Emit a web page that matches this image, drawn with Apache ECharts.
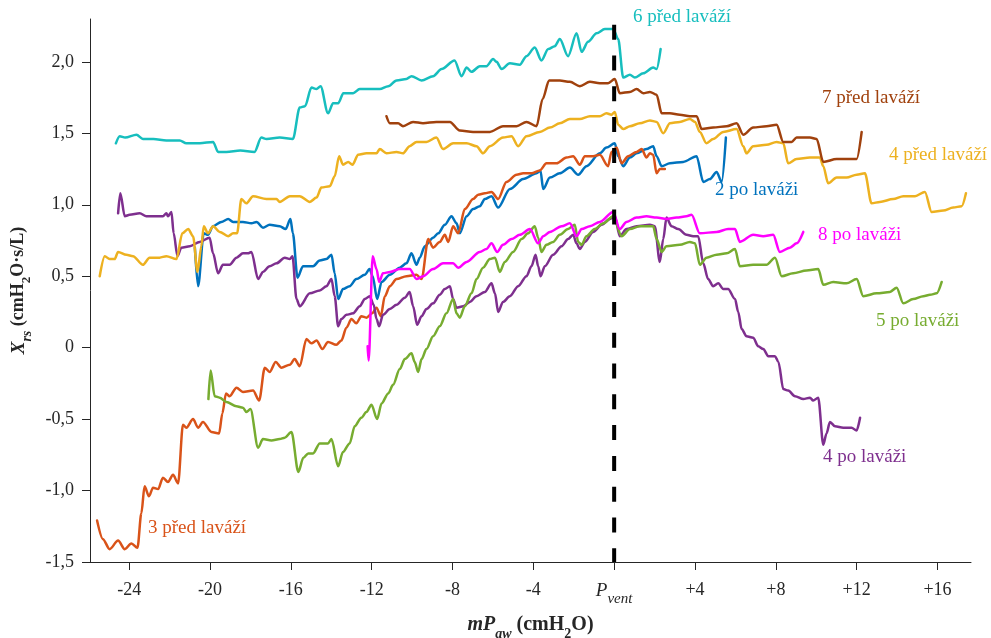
<!DOCTYPE html>
<html>
<head>
<meta charset="utf-8">
<script src="https://cdn.jsdelivr.net/npm/echarts@6/dist/echarts.min.js"></script>
<style>
  html, body { margin: 0; padding: 0; background: #fff; }
  #chart { width: 991px; height: 638px; }
</style>
</head>
<body>
<div id="chart"></div>
<script>
// tick positions on both axes
const xTicks = [-24, -20, -16, -12, -8, -4, 0, 4, 8, 12, 16];
const yTicks = [-1.5, -1, -0.5, 0, 0.5, 1, 1.5, 2];

// Xrs curves, [mPaw, Xrs]
const po2 = [[-20.75,0.70],[-20.59,0.43],[-20.31,0.80],[-20.1,0.79],[-19.85,0.85],[-19.44,0.88],[-19.1,0.90],[-18.86,0.88],[-18.37,0.88],[-17.95,0.87],[-17.7,0.88],[-17.38,0.84],[-17.05,0.86],[-16.55,0.85],[-16.26,0.83],[-16.02,0.90],[-15.9,0.80],[-15.67,0.49],[-15.4,0.57],[-14.9,0.57],[-14.57,0.61],[-14.24,0.62],[-13.99,0.65],[-13.83,0.52],[-13.66,0.34],[-13.42,0.41],[-13.09,0.43],[-12.76,0.48],[-12.34,0.51],[-12.1,0.55],[-11.95,0.50],[-11.73,0.34],[-11.51,0.46],[-11.1,0.51],[-10.61,0.56],[-10.28,0.59],[-10.03,0.66],[-9.78,0.58],[-9.62,0.63],[-9.37,0.71],[-8.96,0.77],[-8.71,0.80],[-8.38,0.86],[-8.05,0.92],[-7.8,0.87],[-7.64,0.80],[-7.3,0.92],[-6.98,0.97],[-6.65,0.99],[-6.4,1.04],[-6.07,1.06],[-5.74,0.98],[-5.16,1.11],[-4.5,1.18],[-3.84,1.22],[-3.65,1.24],[-3.51,1.11],[-3.18,1.19],[-2.69,1.22],[-2.19,1.26],[-1.78,1.21],[-1.37,1.27],[-0.71,1.36],[-0.38,1.40],[0.03,1.43],[0.2,1.34],[0.45,1.27],[0.78,1.33],[1.11,1.36],[1.6,1.39],[1.93,1.41],[2.1,1.34],[2.35,1.27],[2.76,1.29],[3.42,1.30],[4.08,1.34],[4.41,1.16],[4.74,1.18],[5.07,1.23],[5.32,1.16],[5.53,1.47]];
const pred3 = [[-25.59,-1.21],[-25.3,-1.34],[-24.97,-1.41],[-24.55,-1.35],[-24.22,-1.41],[-23.89,-1.37],[-23.59,-1.40],[-23.4,-1.16],[-23.24,-0.97],[-23.02,-1.04],[-22.82,-0.98],[-22.57,-0.99],[-22.33,-0.91],[-22.08,-0.94],[-21.83,-0.89],[-21.58,-0.95],[-21.34,-0.54],[-21.17,-0.56],[-20.84,-0.50],[-20.59,-0.56],[-20.35,-0.52],[-19.93,-0.59],[-19.55,-0.60],[-19.39,-0.46],[-19.21,-0.32],[-19.03,-0.34],[-18.69,-0.28],[-18.37,-0.31],[-17.87,-0.30],[-17.57,-0.37],[-17.29,-0.14],[-17.05,-0.17],[-16.75,-0.10],[-16.47,-0.14],[-16.05,-0.12],[-15.81,-0.08],[-15.56,-0.13],[-15.23,0.06],[-14.98,0.03],[-14.73,0.05],[-14.44,-0.01],[-14.16,0.04],[-13.75,0.02],[-13.5,0.05],[-13.25,0.14],[-13.0,0.20],[-12.76,0.17],[-12.51,0.22],[-12.26,0.21],[-11.98,0.24],[-11.76,0.28],[-11.55,0.22],[-11.35,0.36],[-11.1,0.43],[-10.77,0.48],[-10.28,0.50],[-9.78,0.51],[-9.53,0.48],[-9.2,0.76],[-8.96,0.70],[-8.63,0.74],[-8.38,0.79],[-8.21,0.74],[-7.97,0.85],[-7.72,0.80],[-7.39,0.97],[-6.98,1.04],[-6.73,1.07],[-6.4,1.08],[-6.07,1.09],[-5.74,1.04],[-5.33,1.16],[-4.83,1.21],[-4.5,1.22],[-4.09,1.22],[-3.68,1.24],[-3.35,1.29],[-2.85,1.29],[-2.36,1.33],[-2.03,1.34],[-1.7,1.28],[-1.45,1.34],[-1.04,1.34],[-0.71,1.35],[-0.3,1.27],[-0.13,1.37],[0.12,1.40],[0.37,1.29],[0.69,1.34],[1.11,1.37],[1.36,1.39],[1.6,1.33],[1.77,1.36],[1.93,1.35],[2.1,1.22],[2.26,1.25],[2.51,1.25]];
const po4 = [[-24.55,0.94],[-24.44,1.08],[-24.22,0.92],[-23.98,0.93],[-23.48,0.94],[-23.15,0.92],[-22.65,0.92],[-22.33,0.92],[-22.16,0.94],[-22.08,0.92],[-21.91,0.95],[-21.8,0.80],[-21.61,0.64],[-21.42,0.70],[-21.0,0.71],[-20.51,0.74],[-20.02,0.77],[-19.85,0.66],[-19.6,0.52],[-19.36,0.58],[-19.03,0.58],[-18.69,0.63],[-18.37,0.66],[-18.12,0.66],[-17.95,0.67],[-17.62,0.48],[-17.38,0.53],[-17.05,0.57],[-16.71,0.59],[-16.3,0.63],[-16.05,0.62],[-15.92,0.64],[-15.72,0.34],[-15.56,0.29],[-15.06,0.38],[-14.57,0.40],[-14.24,0.43],[-13.99,0.48],[-13.83,0.36],[-13.66,0.15],[-13.5,0.20],[-13.25,0.23],[-12.92,0.24],[-12.59,0.29],[-12.34,0.34],[-12.1,0.36],[-11.9,0.30],[-11.76,0.20],[-11.63,0.15],[-11.44,0.23],[-11.1,0.27],[-10.77,0.30],[-10.36,0.35],[-10.12,0.39],[-9.95,0.29],[-9.75,0.16],[-9.53,0.22],[-9.29,0.27],[-8.96,0.31],[-8.63,0.37],[-8.38,0.41],[-8.13,0.43],[-7.97,0.34],[-7.8,0.28],[-7.47,0.29],[-7.14,0.32],[-6.81,0.36],[-6.4,0.39],[-6.07,0.45],[-5.9,0.38],[-5.74,0.25],[-5.5,0.32],[-5.16,0.36],[-4.75,0.43],[-4.34,0.50],[-4.09,0.57],[-3.89,0.65],[-3.76,0.57],[-3.64,0.50],[-3.43,0.57],[-3.02,0.65],[-2.6,0.71],[-2.28,0.76],[-2.03,0.79],[-1.86,0.73],[-1.7,0.69],[-1.45,0.74],[-1.04,0.81],[-0.62,0.86],[-0.21,0.90],[0.03,0.92],[0.28,0.78],[0.61,0.83],[1.11,0.85],[1.77,0.86],[2.01,0.85],[2.26,0.60],[2.43,0.76],[2.59,0.91],[2.84,0.85],[3.17,0.83],[3.58,0.79],[3.91,0.78],[4.16,0.78],[4.41,0.59],[4.65,0.48],[4.9,0.43],[5.15,0.45],[5.4,0.41],[5.64,0.41],[5.98,0.34],[6.14,0.25],[6.31,0.13],[6.55,0.08],[6.88,0.07],[7.13,0.01],[7.38,-0.01],[7.63,-0.06],[7.96,-0.06],[8.13,-0.10],[8.37,-0.29],[8.61,-0.30],[8.95,-0.34],[9.36,-0.36],[9.69,-0.35],[9.85,-0.37],[10.1,-0.35],[10.35,-0.68],[10.51,-0.60],[10.68,-0.52],[10.93,-0.55],[11.34,-0.56],[11.75,-0.56],[12.0,-0.58],[12.17,-0.49]];
const pred4 = [[-25.46,0.50],[-25.21,0.64],[-24.97,0.62],[-24.72,0.62],[-24.55,0.67],[-24.14,0.65],[-23.81,0.64],[-23.32,0.58],[-22.99,0.63],[-22.5,0.63],[-22.16,0.64],[-21.66,0.62],[-21.37,0.80],[-21.08,0.83],[-20.84,0.78],[-20.62,0.53],[-20.43,0.71],[-20.31,0.85],[-20.1,0.80],[-19.85,0.85],[-19.52,0.81],[-19.1,0.78],[-18.86,0.80],[-18.66,0.80],[-18.45,1.04],[-18.2,1.01],[-17.87,1.06],[-17.21,1.04],[-16.71,1.04],[-16.55,1.02],[-16.05,1.06],[-15.56,1.06],[-15.06,1.02],[-14.73,1.05],[-14.49,1.12],[-14.07,1.13],[-13.83,1.20],[-13.61,1.34],[-13.42,1.28],[-13.16,1.30],[-12.95,1.28],[-12.67,1.35],[-12.26,1.36],[-11.76,1.36],[-11.6,1.39],[-11.27,1.36],[-10.77,1.37],[-10.45,1.36],[-10.12,1.41],[-9.78,1.44],[-9.29,1.44],[-8.8,1.47],[-8.47,1.39],[-7.97,1.43],[-7.3,1.43],[-6.81,1.41],[-6.49,1.36],[-6.15,1.41],[-5.5,1.47],[-5.08,1.48],[-4.75,1.41],[-4.34,1.48],[-3.68,1.51],[-3.18,1.54],[-2.69,1.57],[-2.19,1.60],[-1.7,1.60],[-1.2,1.62],[-0.71,1.62],[-0.38,1.64],[-0.13,1.63],[0.03,1.65],[0.2,1.56],[0.45,1.53],[0.78,1.55],[1.27,1.57],[1.77,1.59],[2.1,1.58],[2.43,1.50],[2.76,1.57],[3.25,1.58],[3.75,1.60],[4.0,1.58],[4.24,1.51],[4.57,1.43],[4.9,1.46],[5.4,1.51],[6.06,1.53],[6.39,1.41],[6.55,1.36],[6.88,1.41],[7.54,1.42],[8.04,1.44],[8.37,1.43],[8.61,1.29],[9.03,1.32],[9.69,1.33],[10.18,1.33],[10.35,1.27],[10.59,1.15],[11.01,1.19],[11.5,1.19],[12.0,1.21],[12.41,1.22],[12.74,1.01],[13.15,1.02],[13.81,1.04],[14.31,1.06],[14.89,1.06],[15.38,1.09],[15.71,0.95],[16.29,0.96],[16.78,0.98],[17.2,0.99],[17.41,1.08]];
const po5 = [[-20.08,-0.36],[-19.97,-0.16],[-19.77,-0.34],[-19.52,-0.35],[-19.19,-0.38],[-18.69,-0.41],[-18.37,-0.42],[-18.2,-0.45],[-18.0,-0.43],[-17.62,-0.70],[-17.38,-0.64],[-16.96,-0.65],[-16.55,-0.64],[-16.3,-0.63],[-15.97,-0.59],[-15.63,-0.87],[-15.38,-0.77],[-15.14,-0.74],[-14.9,-0.74],[-14.57,-0.67],[-14.16,-0.67],[-13.99,-0.64],[-13.66,-0.83],[-13.42,-0.73],[-13.09,-0.67],[-12.84,-0.55],[-12.51,-0.49],[-12.26,-0.45],[-12.01,-0.40],[-11.73,-0.50],[-11.51,-0.39],[-11.18,-0.32],[-10.94,-0.26],[-10.61,-0.15],[-10.36,-0.08],[-10.03,-0.04],[-9.87,-0.10],[-9.7,-0.17],[-9.53,-0.08],[-9.29,-0.01],[-8.96,0.08],[-8.63,0.15],[-8.3,0.24],[-7.97,0.34],[-7.8,0.24],[-7.64,0.21],[-7.39,0.29],[-7.06,0.38],[-6.81,0.48],[-6.49,0.56],[-6.15,0.62],[-5.9,0.63],[-5.66,0.53],[-5.41,0.60],[-5.0,0.67],[-4.58,0.76],[-4.26,0.80],[-3.93,0.85],[-3.76,0.77],[-3.6,0.67],[-3.35,0.72],[-3.02,0.74],[-2.69,0.79],[-2.28,0.83],[-1.95,0.86],[-1.78,0.74],[-1.61,0.72],[-1.37,0.78],[-0.96,0.83],[-0.54,0.87],[-0.05,0.92],[0.37,0.78],[0.78,0.83],[1.27,0.85],[1.93,0.85],[2.1,0.76],[2.35,0.67],[2.59,0.71],[3.25,0.72],[3.75,0.74],[4.0,0.73],[4.24,0.58],[4.57,0.63],[5.07,0.65],[5.57,0.66],[5.98,0.69],[6.22,0.57],[6.88,0.58],[7.54,0.58],[7.96,0.63],[8.29,0.50],[8.86,0.52],[9.52,0.54],[10.1,0.55],[10.35,0.44],[10.84,0.46],[11.5,0.45],[12.0,0.48],[12.33,0.36],[12.99,0.38],[13.65,0.39],[13.98,0.42],[14.31,0.31],[14.8,0.34],[15.3,0.36],[15.63,0.37],[15.96,0.38],[16.21,0.46]];
const pred6 = [[-24.66,1.43],[-24.47,1.48],[-24.2,1.47],[-23.64,1.49],[-23.32,1.46],[-22.8,1.46],[-22.16,1.45],[-21.5,1.45],[-21.17,1.43],[-20.5,1.43],[-19.85,1.44],[-19.6,1.37],[-19.19,1.37],[-18.5,1.38],[-17.8,1.37],[-17.46,1.47],[-17.2,1.46],[-16.55,1.47],[-15.9,1.46],[-15.56,1.68],[-15.3,1.69],[-14.98,1.82],[-14.73,1.81],[-14.53,1.83],[-14.16,1.64],[-13.91,1.71],[-13.66,1.71],[-13.4,1.78],[-12.92,1.78],[-12.59,1.81],[-12.1,1.81],[-11.6,1.81],[-11.18,1.83],[-10.77,1.87],[-10.28,1.88],[-10.03,1.90],[-9.53,1.87],[-8.96,1.90],[-8.54,1.95],[-7.9,2.01],[-7.55,1.90],[-7.3,1.96],[-7.06,1.93],[-6.65,1.97],[-6.32,1.97],[-5.99,2.02],[-5.82,2.00],[-5.57,1.95],[-5.16,1.99],[-4.67,1.98],[-4.34,2.04],[-3.93,2.10],[-3.6,2.01],[-3.26,2.09],[-2.94,2.11],[-2.69,2.16],[-2.28,2.04],[-1.86,2.20],[-1.61,2.07],[-1.29,2.14],[-0.87,2.20],[-0.46,2.23],[-0.05,2.23],[0.2,2.16],[0.45,1.89],[0.78,1.91],[1.02,1.89],[1.44,1.92],[1.93,1.96],[2.1,1.95],[2.3,2.09]];
const pred7 = [[-11.27,1.62],[-11.1,1.57],[-10.69,1.57],[-10.45,1.55],[-9.95,1.58],[-9.46,1.57],[-8.8,1.58],[-8.13,1.58],[-7.64,1.52],[-6.98,1.51],[-6.15,1.51],[-5.5,1.55],[-4.83,1.55],[-4.34,1.58],[-3.84,1.55],[-3.54,1.74],[-3.22,1.87],[-2.69,1.87],[-2.19,1.86],[-1.7,1.83],[-1.2,1.86],[-0.71,1.85],[-0.3,1.85],[0.03,1.88],[0.28,1.78],[0.78,1.79],[1.11,1.81],[1.44,1.78],[1.77,1.79],[2.1,1.77],[2.35,1.64],[2.76,1.64],[3.25,1.63],[3.75,1.62],[4.08,1.62],[4.33,1.53],[4.9,1.54],[5.57,1.55],[6.06,1.57],[6.39,1.49],[6.88,1.54],[7.54,1.55],[8.04,1.56],[8.37,1.44],[8.78,1.44],[9.03,1.47],[9.69,1.47],[10.02,1.46],[10.35,1.30],[11.01,1.32],[11.67,1.32],[12.0,1.32],[12.25,1.51]];
const po8 = [[-12.2,0.01],[-12.15,-0.09],[-11.95,0.64],[-11.76,0.55],[-11.63,0.46],[-11.44,0.52],[-11.1,0.53],[-10.61,0.55],[-10.12,0.55],[-9.78,0.48],[-9.46,0.50],[-8.96,0.55],[-8.47,0.59],[-7.97,0.59],[-7.72,0.56],[-7.3,0.60],[-6.65,0.67],[-6.32,0.69],[-6.07,0.73],[-5.79,0.67],[-5.5,0.72],[-5.08,0.76],[-4.67,0.79],[-4.17,0.83],[-3.76,0.73],[-3.51,0.78],[-3.18,0.81],[-2.6,0.85],[-2.19,0.87],[-1.86,0.78],[-1.61,0.83],[-1.2,0.85],[-0.71,0.88],[-0.05,0.95],[0.28,0.83],[0.61,0.88],[1.11,0.91],[1.6,0.92],[2.1,0.91],[2.59,0.90],[3.09,0.91],[3.58,0.92],[3.83,0.93],[4.24,0.80],[5.07,0.81],[5.64,0.83],[5.98,0.83],[6.22,0.74],[6.88,0.79],[7.38,0.78],[7.87,0.79],[8.2,0.67],[8.7,0.70],[9.03,0.73],[9.36,0.81]];
// vertical dashed line at P_vent
const pvent = [[0, 2.26], [0, -1.5]];

const FONT = '"Liberation Serif", "Times New Roman", serif';
const AX = '#262626';

const curves = [
    { name: '2 po laváži', data: po2, color: '#0072BD' },
    { name: '3 před laváží', data: pred3, color: '#D95319' },
    { name: '4 po laváži', data: po4, color: '#7E2F8E' },
    { name: '4 před laváží', data: pred4, color: '#EDB120' },
    { name: '5 po laváži', data: po5, color: '#77AC30' },
    { name: '6 před laváží', data: pred6, color: '#17BEBE' },
    { name: '7 před laváží', data: pred7, color: '#A0410D' },
    { name: '8 po laváži', data: po8, color: '#FF00FF' },
];

// where the curve names sit (pixel, left/middle)
const labelPos = {
    '6 před laváží': [633, 19],
    '7 před laváží': [822, 100],
    '4 před laváží': [889, 157],
    '2 po laváži': [715, 192],
    '8 po laváži': [818, 237],
    '5 po laváži': [876, 323],
    '4 po laváži': [823, 459],
    '3 před laváží': [148, 530],
};

const sub = (size) => ({ fontFamily: FONT, fontSize: size, color: AX });

const chart = echarts.init(document.getElementById('chart'), null, { renderer: 'canvas' });
chart.setOption({
    animation: false,
    textStyle: { fontFamily: FONT },
    grid: { left: 90, right: 20, top: 19, bottom: 76, containLabel: false, outerBoundsMode: 'none' },
    xAxis: {
        type: 'value',
        min: -25.94,
        max: 17.66,
        name: '{m|mP}{ms|aw}{n| (cmH}{ns|2}{n|O)}',
        nameLocation: 'middle',
        nameGap: 53,
        nameTextStyle: {
            rich: {
                m: { ...sub(20), fontWeight: 'bold', fontStyle: 'italic', lineHeight: 22, verticalAlign: 'top' },
                ms: { ...sub(14), fontWeight: 'bold', fontStyle: 'italic', lineHeight: 15, padding: [12, 0, 0, 0], verticalAlign: 'top' },
                n: { ...sub(20), fontWeight: 'bold', lineHeight: 22, verticalAlign: 'top' },
                ns: { ...sub(14), fontWeight: 'bold', lineHeight: 15, padding: [12, 0, 0, 0], verticalAlign: 'top' },
            },
        },
        axisLine: { onZero: false, lineStyle: { color: AX, width: 1 } },
        axisTick: { length: 8, customValues: xTicks, lineStyle: { color: AX } },
        axisLabel: {
            customValues: xTicks,
            margin: 19,
            color: AX,
            fontSize: 18,
            fontFamily: FONT,
            formatter: (v) => (v === 0 ? '{p|P}{s|vent}' : v > 0 ? '+' + v : String(v)),
            rich: {
                p: { ...sub(19), fontStyle: 'italic', lineHeight: 19, verticalAlign: 'top' },
                s: { ...sub(15), fontStyle: 'italic', lineHeight: 15, padding: [11, 0, 0, 0], verticalAlign: 'top' },
            },
        },
        splitLine: { show: false },
    },
    yAxis: {
        type: 'value',
        min: -1.5,
        max: 2.3,
        name: '{x|X}{xs|rs}{n| (cmH}{ns|2}{n|O·s/L)}',
        nameLocation: 'middle',
        nameRotate: 90,
        nameGap: 53,
        nameTextStyle: {
            rich: {
                x: { ...sub(19), fontWeight: 'bold', fontStyle: 'italic', lineHeight: 21, verticalAlign: 'top' },
                xs: { ...sub(14), fontWeight: 'bold', fontStyle: 'italic', lineHeight: 15, padding: [11, 0, 0, 0], verticalAlign: 'top' },
                n: { ...sub(18), fontWeight: 'bold', lineHeight: 21, verticalAlign: 'top' },
                ns: { ...sub(13), fontWeight: 'bold', lineHeight: 14, padding: [11, 0, 0, 0], verticalAlign: 'top' },
            },
        },
        axisLine: { onZero: false, lineStyle: { color: AX, width: 1 } },
        axisTick: { length: 8, customValues: yTicks, lineStyle: { color: AX } },
        axisLabel: {
            customValues: yTicks,
            margin: 16,
            color: AX,
            fontSize: 18,
            fontFamily: FONT,
            formatter: (v) => (v === 0 ? '0' : v.toFixed(1).replace('.', ',')),
        },
        splitLine: { show: false },
    },
    series: curves.map((c) => ({
        name: c.name,
        type: 'line',
        data: c.data,
        showSymbol: false,
        smooth: 0.3,
        smoothMonotone: 'x',
        lineStyle: { color: c.color, width: 2.5, join: 'round', cap: 'round' },
        itemStyle: { color: c.color },
    })).concat([{
        name: 'Pvent',
        type: 'line',
        data: pvent,
        showSymbol: false,
        lineStyle: { color: '#000', width: 4, type: [15, 15.8] },
        z: 5,
    }]),
    graphic: curves.map((c) => ({
        type: 'text',
        left: labelPos[c.name][0],
        top: labelPos[c.name][1] - 11,
        style: { text: c.name, fill: c.color, font: '19px ' + FONT },
        z: 10,
    })),
});
</script>
</body>
</html>
